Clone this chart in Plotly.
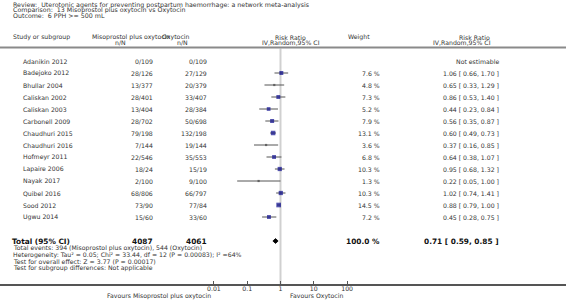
import plotly.graph_objects as go
import numpy as np

# ---------------- data ----------------
studies = ["Adanikin 2012", "Badejoko 2012", "Bhullar 2004", "Caliskan 2002", "Caliskan 2003",
           "Carbonell 2009", "Chaudhuri 2015", "Chaudhuri 2016", "Hofmeyr 2011", "Lapaire 2006",
           "Nayak 2017", "Quibel 2016", "Sood 2012", "Ugwu 2014"]
miso_events = [0, 28, 13, 28, 13, 28, 79, 7, 22, 18, 2, 68, 73, 15]
miso_total = [109, 126, 377, 401, 404, 702, 198, 144, 546, 24, 100, 806, 90, 60]
oxy_events = [0, 27, 20, 33, 28, 50, 132, 19, 35, 15, 9, 66, 77, 33]
oxy_total = [109, 129, 379, 407, 384, 698, 198, 144, 553, 19, 100, 797, 84, 60]
weight = [None, 7.6, 4.8, 7.3, 5.2, 7.9, 13.1, 3.6, 6.8, 10.3, 1.3, 10.3, 14.5, 7.2]
rr = [None, 1.06, 0.65, 0.86, 0.44, 0.56, 0.60, 0.37, 0.64, 0.95, 0.22, 1.02, 0.88, 0.45]
rr_lo = [None, 0.66, 0.33, 0.53, 0.23, 0.35, 0.49, 0.16, 0.38, 0.68, 0.05, 0.74, 0.79, 0.28]
rr_hi = [None, 1.70, 1.29, 1.40, 0.84, 0.87, 0.73, 0.85, 1.07, 1.32, 1.00, 1.41, 1.00, 0.75]

total_miso = 4087
total_oxy = 4061
total_weight = 100.0
total_rr, total_lo, total_hi = 0.71, 0.59, 0.85
total_row = 15

axis_ticks = [0.01, 0.1, 1, 10, 100]
axis_ticklabels = ["0.01", "0.1", "1", "10", "100"]

title_lines = ["Review:\u00a0 Uterotonic agents for preventing postpartum haemorrhage: a network meta-analysis",
               "Comparison:\u00a0 13 Misoprostol plus oxytocin vs Oxytocin",
               "Outcome:\u00a0 6 PPH >= 500 mL"]
foot_lines = ["Total events: 394 (Misoprostol plus oxytocin), 544 (Oxytocin)",
              "Heterogeneity: Tau\u00b2 = 0.05; Chi\u00b2 = 33.44, df = 12 (P = 0.00083); I\u00b2 =64%",
              "Test for overall effect: Z = 3.77 (P = 0.00017)",
              "Test for subgroup differences: Not applicable"]

# ---------------- layout helpers ----------------
W, H = 566, 301
FONT = "DejaVu Sans"
FS = 6.2
TXT = "#333333"
AXIS_Y = 284          # pixel of the axis line
ROW0, ROWSTEP = 61, 12


def X(px):
    return px / W


def Y(py):
    return 1 - py / H


anns = []


def txt(text, px, py, anchor="left", size=FS, bold=False, color=TXT, yref="paper", yval=None):
    anns.append(dict(text=("<b>%s</b>" % text) if bold else text,
                     x=X(px), xref="paper",
                     y=(Y(py) if yref == "paper" else yval), yref=yref,
                     xanchor=anchor, yanchor="middle", showarrow=False,
                     borderpad=0, borderwidth=0,
                     font=dict(family=FONT, size=size, color=color)))


# titles
for i, t in enumerate(title_lines):
    txt(t, 12.5, 4.8 + 5.4 * i, size=6.3)

# headers
txt("Study or subgroup", 12.5, 37)
txt("Misoprostol plus oxytocin", 92, 37)
txt("n/N", 120, 42.5, anchor="center")
txt("Oxytocin", 162, 37)
txt("n/N", 182, 42.5, anchor="center")
txt("Risk Ratio", 290, 37, anchor="center")
txt("IV,Random,95% CI", 291, 42.5, anchor="center")
txt("Weight", 348, 37)
txt("Risk Ratio", 490, 37, anchor="right")
txt("IV,Random,95% CI", 491, 42.5, anchor="right")

# study rows
for i, s in enumerate(studies):
    txt(s, 23, 0, yref="y", yval=i)
    txt("%d/%d" % (miso_events[i], miso_total[i]), 153, 0, anchor="right", yref="y", yval=i)
    txt("%d/%d" % (oxy_events[i], oxy_total[i]), 206.5, 0, anchor="right", yref="y", yval=i)
    if weight[i] is not None:
        txt("%.1f %%" % weight[i], 379.5, 0, anchor="right", yref="y", yval=i)
        txt("%.2f [ %.2f, %.2f ]" % (rr[i], rr_lo[i], rr_hi[i]), 499, 0, anchor="right", yref="y", yval=i)
    else:
        txt("Not estimable", 499, 0, anchor="right", yref="y", yval=i)

# total row
BS = 7.4
txt("Total (95% CI)", 12, 0, bold=True, size=BS, color="#111", yref="y", yval=total_row)
txt(str(total_miso), 153, 0, anchor="right", bold=True, size=BS, color="#111", yref="y", yval=total_row)
txt(str(total_oxy), 206.5, 0, anchor="right", bold=True, size=BS, color="#111", yref="y", yval=total_row)
txt("%.1f %%" % total_weight, 380, 0, anchor="right", bold=True, size=BS, color="#111", yref="y", yval=total_row)
txt("%.2f [ %.2f, %.2f ]" % (total_rr, total_lo, total_hi), 499, 0, anchor="right", bold=True, size=BS,
    color="#111", yref="y", yval=total_row)

for i, t in enumerate(foot_lines):
    txt(t, 12.5, 248.3 + 6.5 * i)

# favours
txt("Favours Misoprostol plus oxytocin", 211, 295.5, anchor="right")
txt("Favours Oxytocin", 290, 295.5)

# ---------------- traces ----------------
fig = go.Figure()

w = np.array([np.nan if v is None else v for v in weight], dtype=float)
r = np.array([np.nan if v is None else v for v in rr], dtype=float)
lo = np.array([np.nan if v is None else v for v in rr_lo], dtype=float)
hi = np.array([np.nan if v is None else v for v in rr_hi], dtype=float)
rows = np.arange(len(studies))
big = w >= 5
sizes = np.where(big, 3.2 + 0.1 * np.nan_to_num(w), 2.2)
colors = np.where(big, "#0a0a8c", "#444444")

fig.add_trace(go.Scatter(
    x=r, y=rows, mode="markers",
    marker=dict(symbol="square", size=sizes, color=colors.tolist(), line=dict(width=0)),
    error_x=dict(type="data", symmetric=False, array=hi - r, arrayminus=r - lo,
                 width=0, thickness=1, color="#555555"),
    showlegend=False, hoverinfo="skip", cliponaxis=False))

# total diamond
dh = 0.2
fig.add_trace(go.Scatter(
    x=[total_lo, total_rr, total_hi, total_rr, total_lo],
    y=[total_row, total_row - dh, total_row, total_row + dh, total_row],
    mode="lines", fill="toself", fillcolor="#000000",
    line=dict(color="#000000", width=0.8), showlegend=False, hoverinfo="skip"))

# ---------------- axes ----------------
x1_px = 280.5
dec_px = 33.3
xr = [(0 - x1_px) / dec_px, (W - x1_px) / dec_px]
yr = [(AXIS_Y - ROW0) / ROWSTEP, (0 - ROW0) / ROWSTEP]

fig.update_layout(
    width=W, height=H,
    margin=dict(l=0, r=0, t=0, b=0),
    paper_bgcolor="white", plot_bgcolor="white",
    hovermode=False,
    xaxis=dict(type="log", range=xr, domain=[0, 1],
               tickvals=axis_ticks, ticktext=axis_ticklabels,
               ticks="inside", ticklen=3, tickcolor="#555555", tickwidth=1,
               ticklabelstandoff=-2,
               showline=True, linecolor="#555555", linewidth=1.5,
               showgrid=False, zeroline=False,
               tickfont=dict(family=FONT, size=FS, color=TXT)),
    yaxis=dict(range=yr, domain=[1 - AXIS_Y / H, 1], visible=False,
               showgrid=False, zeroline=False),
    annotations=anns,
    shapes=[
        dict(type="line", xref="paper", yref="paper", x0=0, x1=1, y0=Y(47.5), y1=Y(47.5),
             line=dict(color="#8a8a8a", width=2)),
        dict(type="line", xref="x", yref="paper", x0=1, x1=1, y0=Y(48.5), y1=Y(AXIS_Y),
             line=dict(color="#d0d0d0", width=2), layer="below"),
    ],
)

# the page body has a default 8px margin; remove it so the figure fills the window
fig.write_html("out.html", config={"displayModeBar": False},
               post_script="document.body.style.margin='0px';")
